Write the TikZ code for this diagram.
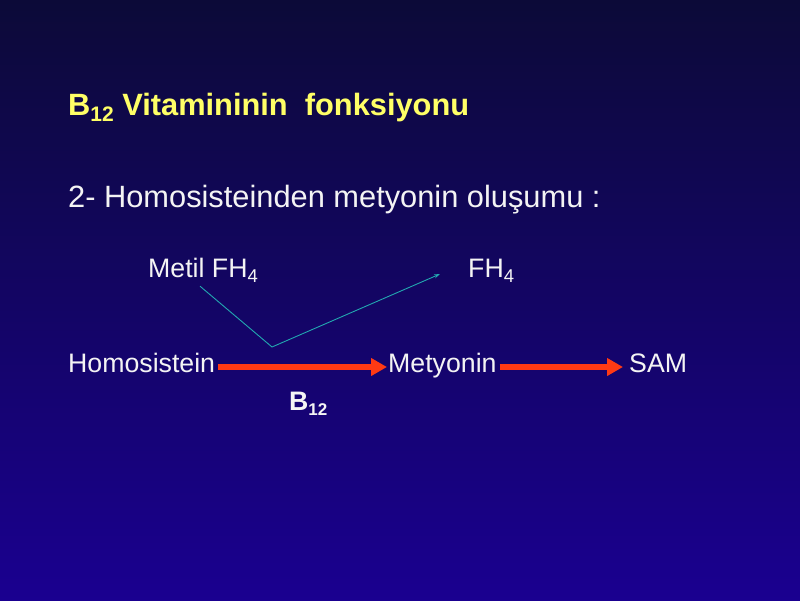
\documentclass[tikz,border=0pt]{standalone}
\usepackage{fontspec}
\setmainfont{Liberation Sans}
\usetikzlibrary{arrows.meta}
\definecolor{bgtop}{HTML}{0C0A38}
\definecolor{bgbot}{HTML}{1A0090}
\definecolor{titleyellow}{HTML}{FFFF66}
\definecolor{txtwhite}{HTML}{F4F4F4}
\definecolor{redarrow}{HTML}{FF3A14}
\definecolor{tealline}{HTML}{22A8B0}
\tikzset{
  lbl/.style={anchor=base west, inner sep=0pt, text=txtwhite, font=\fontsize{26.7}{32}\selectfont},
  bigl/.style={anchor=base west, inner sep=0pt, font=\fontsize{30.8}{36}\selectfont},
  redarr/.style={draw=redarrow, line width=5.5pt, -{Triangle[length=16pt,width=17pt]}},
  tealarr/.style={draw=tealline, line width=0.9pt, -{Stealth[length=6pt,width=4pt]}}
}
\begin{document}
\begin{tikzpicture}[x=1pt,y=-1pt]
\shade[top color=bgtop, bottom color=bgbot] (0,0) rectangle (800,600);
\useasboundingbox (0,0) rectangle (800,600);

\node[bigl, text=titleyellow] (title) at (68,115)
  {\bfseries B\raisebox{-6pt}{\fontsize{21}{24}\selectfont 12} Vitamininin\ \ fonksiyonu};
\node[bigl, text=txtwhite] (sub) at (68,207)
  {2- Homosisteinden\ metyonin oluşumu :};

\node[lbl] (metil) at (148,277) {Metil FH\raisebox{-5pt}{\fontsize{18.5}{20}\selectfont 4}};
\node[lbl] (fh) at (468,277) {FH\raisebox{-5pt}{\fontsize{18.5}{20}\selectfont 4}};

\node[lbl] (homo) at (68,372) {Homosistein};
\node[lbl] (mety) at (388,372) {Metyonin};
\node[lbl] (sam) at (629,372) {SAM};

\node[lbl] (b12) at (289,410) {\bfseries B\raisebox{-5pt}{\fontsize{17}{20}\selectfont 12}};

\coordinate (v) at (272,347);
\draw[tealarr] ([xshift=-3pt,yshift=-4pt]metil.south) -- (v) -- ([xshift=-28pt,yshift=3pt]fh.base west);

\draw[redarr] ([xshift=3pt,yshift=5pt]homo.base east) -- ([xshift=-1pt,yshift=5pt]mety.base west);
\draw[redarr] ([xshift=3pt,yshift=5pt]mety.base east) -- ([xshift=-6pt,yshift=5pt]sam.base west);
\end{tikzpicture}
\end{document}
